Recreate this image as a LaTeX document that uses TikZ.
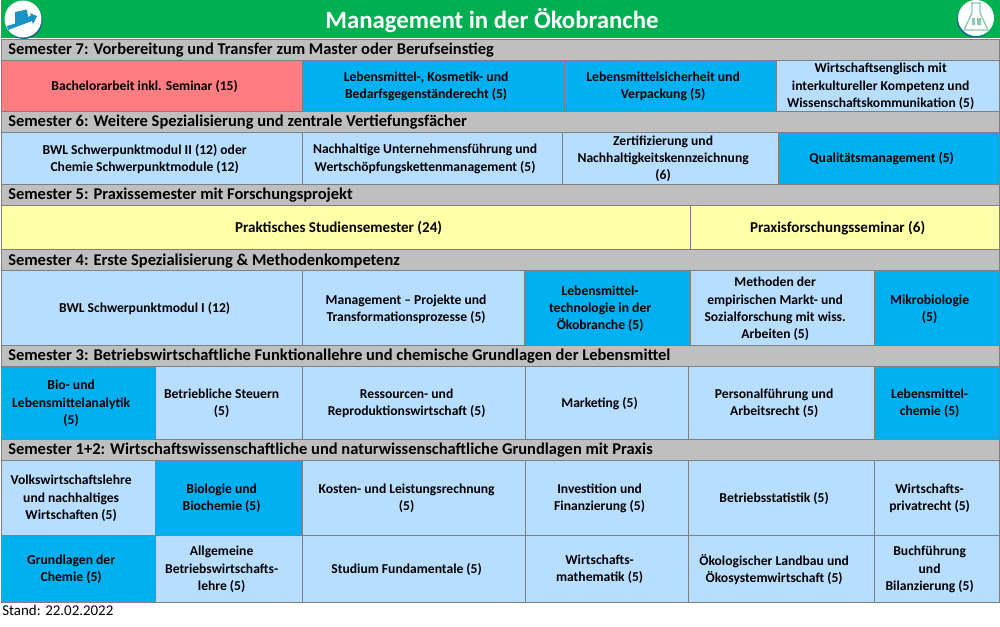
\documentclass[tikz,border=0pt]{standalone}
\usepackage{fontspec}
\setmainfont{Carlito}
\definecolor{titlegreen}{HTML}{00B050}
\definecolor{headgray}{HTML}{BFBFBF}
\definecolor{linegray}{HTML}{7F7F7F}
\definecolor{lightblue}{HTML}{B7DEFF}
\definecolor{darkblue}{HTML}{00B0F0}
\definecolor{thesisred}{HTML}{FF7C80}
\definecolor{practiceyellow}{HTML}{FFFFA7}
\definecolor{flaskgreen}{HTML}{8CC8B0}
\definecolor{iconblue}{HTML}{1A93C4}
\tikzset{
  cw/.style={minimum width=#1*.75pt},
  ch/.style={minimum height=#1*.75pt},
  celltext/.style={align=center,inner sep=0pt,xshift=-5.6pt,yshift=-.6pt,
    font=\fontsize{10.2}{12.9}\selectfont\bfseries},
  cellbox/.style={draw=linegray,line width=.9pt,anchor=north west,inner sep=0pt,
    label={[celltext]center:{#1}}},
  lightcell/.style={cellbox={#1},fill=lightblue},
  darkcell/.style={cellbox={#1},fill=darkblue},
  redcell/.style={cellbox={#1},fill=thesisred},
  yellowcell/.style={cellbox={\fontsize{11.3}{14}\selectfont #1},fill=practiceyellow},
  headbar/.style={draw=linegray,line width=.9pt,fill=headgray,anchor=north west,cw=998,ch=21,
    inner sep=0pt},
  headtext/.style={anchor=west,inner sep=0pt,yshift=-.7pt,font=\fontsize{12.35}{14}\selectfont\bfseries},
}
\begin{document}
\begin{tikzpicture}[x=.75pt,y=-.75pt]
  \useasboundingbox (0,0) rectangle (1000,626);

  \node[anchor=north west,fill=titlegreen,cw=999,ch=38,inner sep=0pt] (title) at (1,0) {};
  \node[text=white,inner sep=0pt,font=\fontsize{18.6}{20}\selectfont\bfseries] (titletext) at (492,21) {Management in der Ökobranche};

  % icons
  \fill[iconblue!70!black] (24,20.5) circle (18.5);
  \fill[white] (23,19) circle (18.5);
  \fill[iconblue] (7,26) -- (15,23.5) -- (15,12) -- (27,9.5) -- (28,17) -- (31,15) -- (30,13) -- (37,16) -- (33,24) -- (32,21) -- (8,30) -- cycle;
  \fill[iconblue!70!black] (975,19.5) circle (18);
  \fill[white] (976,18) circle (18);
  \draw[flaskgreen,line width=1pt] (971,3) -- (981,3) (972,3) -- (972,13) -- (964,30) -- (988,30) -- (980,13) -- (980,3);
  \fill[flaskgreen] (972,18) rectangle (975,25) (977,18) rectangle (981,25);

  % semester 7
  \node[headbar] (head7) at (1,38.5) {};
  \node[headtext] (text7) at (8,49.5) {Semester 7: Vorbereitung und Transfer zum Master oder Berufseinstieg};
  \node[redcell={Bachelorarbeit inkl. Seminar (15)},cw=301,ch=51] (thesis) at (1,59.5) {};
  \node[darkcell={Lebensmittel-, Kosmetik- und\\Bedarfsgegenständerecht (5)},cw=262,ch=51] (foodlaw) at (302,59.5) {};
  \node[darkcell={Lebensmittelsicherheit und\\Verpackung (5)},cw=212,ch=51] (foodsafety) at (564,59.5) {};
  \node[lightcell={Wirtschaftsenglisch mit\\interkultureller Kompetenz und\\Wissenschaftskommunikation (5)},cw=223,ch=51] (english) at (776,59.5) {};

  % semester 6
  \node[headbar] (head6) at (1,110.5) {};
  \node[headtext] (text6) at (8,121) {Semester 6: Weitere Spezialisierung und zentrale Vertiefungsfächer};
  \node[lightcell={BWL Schwerpunktmodul II (12) oder\\Chemie Schwerpunktmodule (12)},cw=301,ch=52] (focustwo) at (1,131.5) {};
  \node[lightcell={Nachhaltige Unternehmensführung und\\Wertschöpfungskettenmanagement (5)},cw=260,ch=52] (valuechain) at (302,131.5) {};
  \node[lightcell={Zertifizierung und\\Nachhaltigkeitskennzeichnung\\(6)},cw=216,ch=52] (labels) at (562,131.5) {};
  \node[darkcell={Qualitätsmanagement (5)},cw=221,ch=52] (quality) at (778,131.5) {};

  % semester 5
  \node[headbar] (head5) at (1,183.5) {};
  \node[headtext] (text5) at (8,194.5) {Semester 5: Praxissemester mit Forschungsprojekt};
  \node[yellowcell={Praktisches Studiensemester (24)},cw=689,ch=44] (practice) at (1,205) {};
  \node[yellowcell={Praxisforschungsseminar (6)},cw=309,ch=44] (practiceseminar) at (690,205) {};

  % semester 4
  \node[headbar] (head4) at (1,249) {};
  \node[headtext] (text4) at (8,260) {Semester 4: Erste Spezialisierung \& Methodenkompetenz};
  \node[lightcell={BWL Schwerpunktmodul I (12)},cw=301,ch=75] (focusone) at (1,270) {};
  \node[lightcell={Management – Projekte und\\Transformationsprozesse (5)},cw=222,ch=75] (projects) at (302,270) {};
  \node[darkcell={Lebensmittel-\\technologie in der\\Ökobranche (5)},cw=166,ch=75] (foodtech) at (524,270) {};
  \node[lightcell={Methoden der\\empirischen Markt- und\\Sozialforschung mit wiss.\\Arbeiten (5)},cw=184,ch=75] (methods) at (690,270) {};
  \node[darkcell={Mikrobiologie\\(5)},cw=125,ch=75] (microbio) at (874,270) {};

  % semester 3
  \node[headbar] (head3) at (1,345) {};
  \node[headtext] (text3) at (8,355.5) {Semester 3: Betriebswirtschaftliche Funktionallehre und chemische Grundlagen der Lebensmittel};
  \node[darkcell={Bio- und\\Lebensmittelanalytik\\(5)},cw=154,ch=73] (analytics) at (1,365.5) {};
  \node[lightcell={Betriebliche Steuern\\(5)},cw=147,ch=73] (taxes) at (155,365.5) {};
  \node[lightcell={Ressourcen- und\\Reproduktionswirtschaft (5)},cw=223,ch=73] (resources) at (302,365.5) {};
  \node[lightcell={Marketing (5)},cw=163,ch=73] (marketing) at (525,365.5) {};
  \node[lightcell={Personalführung und\\Arbeitsrecht (5)},cw=186,ch=73] (leadership) at (688,365.5) {};
  \node[darkcell={Lebensmittel-\\chemie (5)},cw=125,ch=73] (foodchem) at (874,365.5) {};

  % semester 1+2
  \node[headbar] (head12) at (1,438.5) {};
  \node[headtext] (text12) at (8,449.5) {Semester 1+2: Wirtschaftswissenschaftliche und naturwissenschaftliche Grundlagen mit Praxis};
  \node[lightcell={Volkswirtschaftslehre\\und nachhaltiges\\Wirtschaften (5)},cw=154,ch=75] (economics) at (1,459.5) {};
  \node[darkcell={Biologie und\\Biochemie (5)},cw=147,ch=75] (biology) at (155,459.5) {};
  \node[lightcell={Kosten- und Leistungsrechnung\\(5)},cw=223,ch=75] (costs) at (302,459.5) {};
  \node[lightcell={Investition und\\Finanzierung (5)},cw=163,ch=75] (finance) at (525,459.5) {};
  \node[lightcell={Betriebsstatistik (5)},cw=186,ch=75] (statistics) at (688,459.5) {};
  \node[lightcell={Wirtschafts-\\privatrecht (5)},cw=125,ch=75] (privatelaw) at (874,459.5) {};

  \node[darkcell={Grundlagen der\\Chemie (5)},cw=154,ch=67] (chemistry) at (1,534.5) {};
  \node[lightcell={Allgemeine\\Betriebswirtschafts-\\lehre (5)},cw=147,ch=67] (business) at (155,534.5) {};
  \node[lightcell={Studium Fundamentale (5)},cw=223,ch=67] (fundamentale) at (302,534.5) {};
  \node[lightcell={Wirtschafts-\\mathematik (5)},cw=163,ch=67] (maths) at (525,534.5) {};
  \node[lightcell={Ökologischer Landbau und\\Ökosystemwirtschaft (5)},cw=186,ch=67] (ecofarming) at (688,534.5) {};
  \node[lightcell={Buchführung\\und\\Bilanzierung (5)},cw=125,ch=67] (accounting) at (874,534.5) {};

  \node[anchor=west,inner sep=0pt,font=\fontsize{11.2}{12}\selectfont] (stand) at (2,610.5) {Stand: 22.02.2022};
\end{tikzpicture}
\end{document}
